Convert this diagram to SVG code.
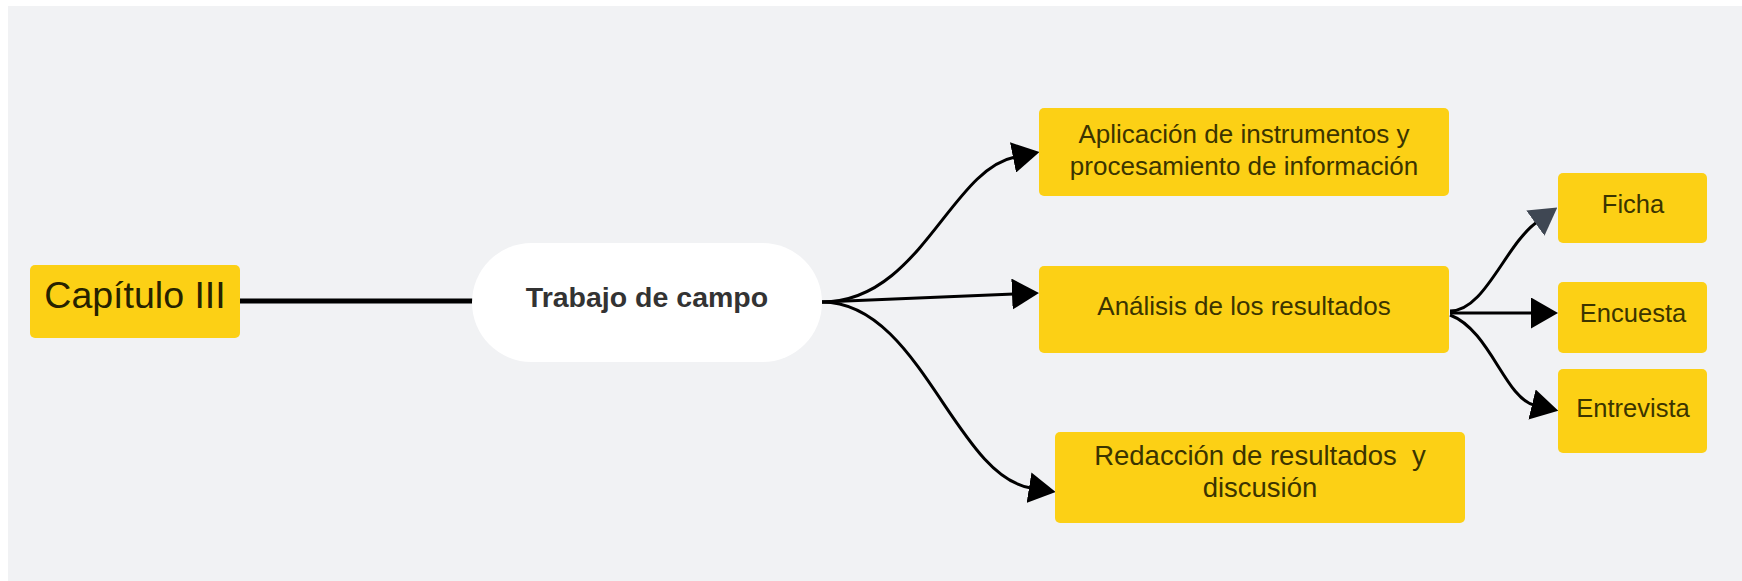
<svg xmlns="http://www.w3.org/2000/svg" width="1742" height="581" viewBox="0 0 1742 581">
<style>
.box{fill:#fcd015}
.t{font-family:"Liberation Sans",Arial,sans-serif;fill:#3b3400;text-anchor:middle}
.c{fill:none;stroke:#000;stroke-width:3}
</style>
<defs>
<marker id="ah" markerUnits="userSpaceOnUse" markerWidth="27" markerHeight="31" refX="2" refY="15.5" orient="auto" viewBox="0 0 27 31">
<path d="M0,0 L27,15.5 L0,31 z" fill="#000"/>
</marker>
<marker id="ahg" markerUnits="userSpaceOnUse" markerWidth="27" markerHeight="31" refX="2" refY="15.5" orient="auto" viewBox="0 0 27 31">
<path d="M0,0 L27,15.5 L0,31 z" fill="#3f4753"/>
</marker>
</defs>
<rect x="8" y="6" width="1734" height="575" fill="#f1f2f4"/>
<g id="connectors">
<line x1="240" y1="301" x2="473" y2="301" stroke="#000" stroke-width="5"/>
<path class="c" d="M822,302 C920,302 950,170 1015,157" marker-end="url(#ah)"/>
<path class="c" d="M822,302 L1014,294" marker-end="url(#ah)"/>
<path class="c" d="M822,302 C920,302 955,476 1031,488" marker-end="url(#ah)"/>
<path class="c" d="M1450,311 C1485,311 1505,245 1537,222" stroke="#3f4753" marker-end="url(#ahg)"/>
<path class="c" d="M1450,313 L1533,313" marker-end="url(#ah)"/>
<path class="c" d="M1450,315 C1490,330 1505,398 1534,405" marker-end="url(#ah)"/>
</g>
<g id="capitulo">
<rect class="box" x="30" y="265" width="210" height="73" rx="5"/>
<text class="t" x="135" y="308" font-size="37.5" style="fill:#262200">Capítulo III</text>
</g>
<g id="trabajo">
<rect x="472" y="243" width="350" height="119" rx="59.5" fill="#fff"/>
<text x="647" y="307" font-family="Liberation Sans,Arial,sans-serif" font-size="28.5" font-weight="bold" fill="#333" text-anchor="middle">Trabajo de campo</text>
</g>
<g id="aplicacion">
<rect class="box" x="1039" y="108" width="410" height="88" rx="5"/>
<text class="t" x="1244" y="143" font-size="26">Aplicación de instrumentos y</text>
<text class="t" x="1244" y="175" font-size="26">procesamiento de información</text>
</g>
<g id="analisis">
<rect class="box" x="1039" y="266" width="410" height="87" rx="5"/>
<text class="t" x="1244" y="315" font-size="26">Análisis de los resultados</text>
</g>
<g id="redaccion">
<rect class="box" x="1055" y="432" width="410" height="91" rx="5"/>
<text class="t" x="1260" y="465" font-size="27.5" xml:space="preserve">Redacción de resultados  y</text>
<text class="t" x="1260" y="497" font-size="27.5">discusión</text>
</g>
<g id="ficha">
<rect class="box" x="1558" y="173" width="149" height="70" rx="5"/>
<text class="t" x="1633" y="213" font-size="25.5">Ficha</text>
</g>
<g id="encuesta">
<rect class="box" x="1558" y="282" width="149" height="71" rx="5"/>
<text class="t" x="1633" y="322" font-size="25.5">Encuesta</text>
</g>
<g id="entrevista">
<rect class="box" x="1558" y="369" width="149" height="84" rx="5"/>
<text class="t" x="1633" y="417" font-size="25.5">Entrevista</text>
</g>
</svg>
